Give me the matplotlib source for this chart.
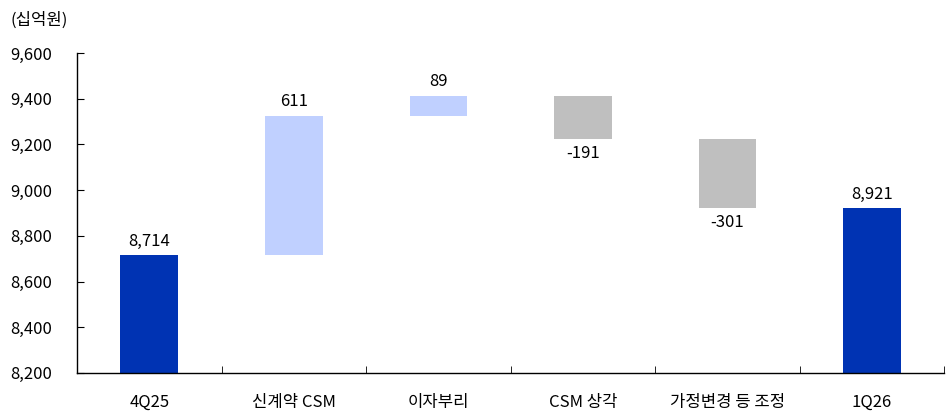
import matplotlib
matplotlib.use("Agg")
import matplotlib.pyplot as plt
import matplotlib.ticker as ticker

plt.rcParams['font.family'] = ['Noto Sans CJK KR', 'DejaVu Sans']

categories = ["4Q25", "신계약 CSM", "이자부리", "CSM 상각", "가정변경 등 조정", "1Q26"]
start_value = 8714
changes = [611, 89, -191, -301]
end_value = 8921

BLUE = "#0033B3"
LIGHT = "#C0D0FF"
GRAY = "#BFBFBF"
FS = 12

fig = plt.figure(figsize=(9.51, 4.12), dpi=100)
ax = fig.add_axes([0.081, 0.095, 0.912, 0.776])

# totals
ax.bar(0, start_value - 8200, bottom=8200, width=0.4, color=BLUE, zorder=2)
ax.bar(5, end_value - 8200, bottom=8200, width=0.4, color=BLUE, zorder=2)
ax.text(0, start_value + 25, f"{start_value:,}", ha="center", va="bottom", fontsize=FS)
ax.text(5, end_value + 25, f"{end_value:,}", ha="center", va="bottom", fontsize=FS)

level = start_value
for i, d in enumerate(changes, start=1):
    col = LIGHT if d > 0 else GRAY
    ax.bar(i, d, bottom=level, width=0.4, color=col, zorder=2)
    if d > 0:
        ax.text(i, level + d + 25, f"{d:,}", ha="center", va="bottom", fontsize=FS)
    else:
        ax.text(i, level + d - 25, f"{d:,}", ha="center", va="top", fontsize=FS)
    level += d

ax.set_ylim(8200, 9600)
ax.set_xlim(-0.5, 5.5)
ax.yaxis.set_major_locator(ticker.MultipleLocator(200))
ax.yaxis.set_major_formatter(ticker.FuncFormatter(lambda v, _: f"{v:,.0f}"))

ax.set_xticks(range(6))
ax.set_xticklabels(categories)
ax.set_xticks([x + 0.5 for x in range(-1, 6)], minor=True)
ax.tick_params(axis="x", which="major", length=0, pad=15, labelsize=FS)
ax.tick_params(axis="x", which="minor", direction="in", length=5)
ax.tick_params(axis="y", direction="in", length=5, pad=18, labelsize=FS)

for s in ("top", "right"):
    ax.spines[s].set_visible(False)
for s in ("left", "bottom"):
    ax.spines[s].set_linewidth(1.0)

fig.text(0.011, 0.952, "(십억원)", fontsize=FS, ha="left", va="center")

fig.savefig("out.png", dpi=100)
